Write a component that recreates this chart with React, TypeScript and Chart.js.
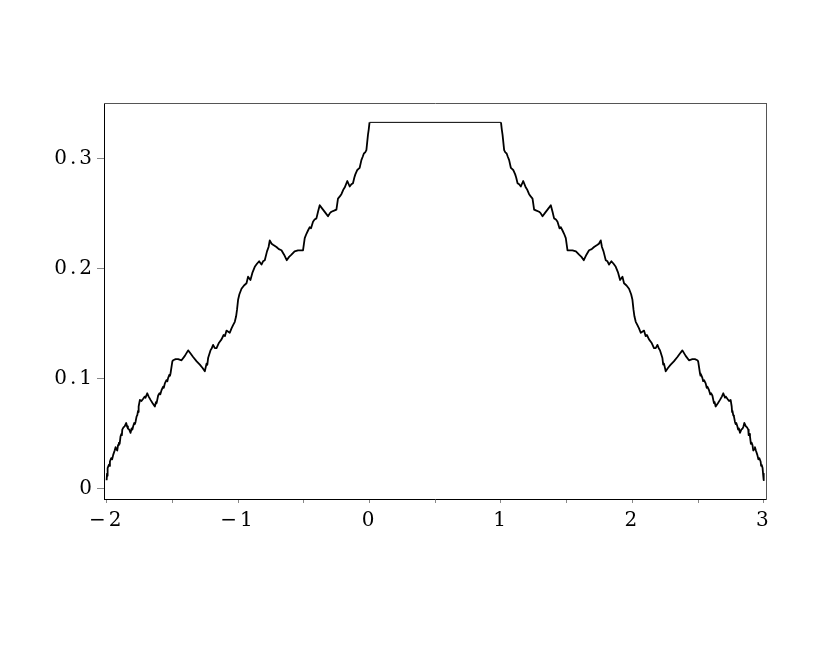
import React, { useEffect, useRef } from "react";
import { Chart, registerables } from "chart.js";

Chart.register(...registerables);

// Left branch (x from -2 to 0)
const leftX = [
  -2, -1.997, -1.995, -1.99, -1.983, -1.979, -1.975, -1.965, -1.958, -1.95,
  -1.939, -1.932, -1.926, -1.919, -1.913, -1.907, -1.901, -1.894, -1.888, -1.884,
  -1.881, -1.872, -1.863, -1.851, -1.845, -1.838, -1.828, -1.818, -1.81, -1.804,
  -1.798, -1.79, -1.785, -1.78, -1.772, -1.767, -1.761, -1.758, -1.755, -1.747,
  -1.735, -1.722, -1.71, -1.704, -1.691, -1.68, -1.666, -1.65, -1.633, -1.625,
  -1.62, -1.608, -1.598, -1.592, -1.582, -1.57, -1.565, -1.557, -1.545, -1.538,
  -1.532, -1.522, -1.518, -1.514, -1.5, -1.494, -1.475, -1.456, -1.43, -1.405,
  -1.38, -1.36, -1.342, -1.315, -1.291, -1.27, -1.253, -1.24, -1.234, -1.228,
  -1.21, -1.2, -1.19, -1.177, -1.164, -1.145, -1.126, -1.11, -1.1, -1.088,
  -1.075, -1.063, -1.05, -1.038, -1.025, -1.015, -1.008, -1.0, -0.99, -0.974,
  -0.955, -0.936, -0.924, -0.906, -0.89, -0.873, -0.855, -0.84, -0.822, -0.81,
  -0.797, -0.78, -0.768, -0.759, -0.745, -0.734, -0.708, -0.69, -0.67, -0.65,
  -0.63, -0.612, -0.594, -0.57, -0.544, -0.525, -0.506, -0.493, -0.48, -0.468,
  -0.455, -0.445, -0.43, -0.418, -0.404, -0.392, -0.379, -0.367, -0.354, -0.335,
  -0.316, -0.3, -0.29, -0.27, -0.252, -0.24, -0.226, -0.214, -0.2, -0.189,
  -0.169, -0.151, -0.138, -0.126, -0.116, -0.108, -0.093, -0.084, -0.075, -0.062,
  -0.052, -0.043, -0.033, -0.024, -0.012, -0.006, 0,
];
const leftY = [
  0.008, 0.014, 0.012, 0.019, 0.022, 0.021, 0.025, 0.028, 0.027, 0.031,
  0.035, 0.038, 0.036, 0.035, 0.04, 0.042, 0.041, 0.048, 0.05, 0.049,
  0.054, 0.056, 0.057, 0.06, 0.057, 0.055, 0.054, 0.051, 0.055, 0.054,
  0.057, 0.06, 0.059, 0.061, 0.066, 0.067, 0.071, 0.07, 0.075, 0.081,
  0.08, 0.082, 0.084, 0.083, 0.087, 0.084, 0.081, 0.078, 0.075, 0.079,
  0.078, 0.085, 0.087, 0.086, 0.09, 0.093, 0.092, 0.096, 0.099, 0.098,
  0.101, 0.104, 0.103, 0.105, 0.116, 0.117, 0.118, 0.118, 0.117, 0.121,
  0.126, 0.123, 0.12, 0.116, 0.113, 0.11, 0.107, 0.114, 0.113, 0.119,
  0.126, 0.128, 0.131, 0.128, 0.128, 0.133, 0.136, 0.14, 0.139, 0.144,
  0.143, 0.142, 0.146, 0.149, 0.152, 0.157, 0.163, 0.172, 0.177, 0.182,
  0.185, 0.187, 0.193, 0.19, 0.197, 0.202, 0.205, 0.207, 0.204, 0.207,
  0.208, 0.216, 0.22, 0.226, 0.223, 0.222, 0.22, 0.218, 0.217, 0.213,
  0.208, 0.211, 0.213, 0.216, 0.217, 0.217, 0.217, 0.228, 0.232, 0.235,
  0.238, 0.237, 0.243, 0.245, 0.246, 0.252, 0.258, 0.256, 0.254, 0.251,
  0.248, 0.251, 0.252, 0.253, 0.254, 0.264, 0.266, 0.268, 0.272, 0.274,
  0.28, 0.275, 0.277, 0.278, 0.283, 0.286, 0.29, 0.291, 0.292, 0.299,
  0.302, 0.305, 0.306, 0.308, 0.322, 0.327, 0.3333,
];

// Right branch (x from 1 to 3)
const rightX = [
  1, 1.006, 1.012, 1.024, 1.033, 1.043, 1.052, 1.062, 1.075, 1.084,
  1.093, 1.108, 1.116, 1.126, 1.138, 1.151, 1.169, 1.189, 1.2, 1.214,
  1.226, 1.24, 1.252, 1.27, 1.29, 1.3, 1.316, 1.335, 1.354, 1.367,
  1.379, 1.392, 1.404, 1.418, 1.43, 1.445, 1.455, 1.468, 1.48, 1.493,
  1.506, 1.525, 1.544, 1.57, 1.594, 1.612, 1.63, 1.65, 1.67, 1.69,
  1.708, 1.734, 1.745, 1.759, 1.768, 1.78, 1.797, 1.81, 1.822, 1.84,
  1.855, 1.873, 1.89, 1.906, 1.924, 1.936, 1.955, 1.974, 1.99, 2.0,
  2.008, 2.015, 2.025, 2.038, 2.05, 2.063, 2.075, 2.088, 2.1, 2.11,
  2.126, 2.145, 2.164, 2.177, 2.19, 2.2, 2.21, 2.228, 2.234, 2.24,
  2.253, 2.27, 2.291, 2.315, 2.342, 2.36, 2.38, 2.405, 2.43, 2.456,
  2.475, 2.494, 2.5, 2.514, 2.518, 2.522, 2.532, 2.538, 2.545, 2.557,
  2.565, 2.57, 2.582, 2.592, 2.598, 2.608, 2.62, 2.625, 2.633, 2.65,
  2.666, 2.68, 2.691, 2.704, 2.71, 2.722, 2.735, 2.747, 2.755, 2.758,
  2.761, 2.767, 2.772, 2.78, 2.785, 2.79, 2.798, 2.804, 2.81, 2.818,
  2.828, 2.838, 2.845, 2.851, 2.863, 2.872, 2.881, 2.884, 2.888, 2.894,
  2.901, 2.907, 2.913, 2.919, 2.926, 2.932, 2.939, 2.95, 2.958, 2.965,
  2.975, 2.979, 2.983, 2.99, 2.995, 2.997, 3,
];
const rightY = [
  0.3333, 0.327, 0.322, 0.308, 0.306, 0.305, 0.302, 0.299, 0.292, 0.291,
  0.29, 0.286, 0.283, 0.278, 0.277, 0.275, 0.28, 0.274, 0.272, 0.268,
  0.266, 0.264, 0.254, 0.253, 0.252, 0.251, 0.248, 0.251, 0.254, 0.256,
  0.258, 0.252, 0.246, 0.245, 0.243, 0.237, 0.238, 0.235, 0.232, 0.228,
  0.217, 0.217, 0.217, 0.216, 0.213, 0.211, 0.208, 0.213, 0.217, 0.218,
  0.22, 0.222, 0.223, 0.226, 0.22, 0.216, 0.208, 0.207, 0.204, 0.207,
  0.205, 0.202, 0.197, 0.19, 0.193, 0.187, 0.185, 0.182, 0.177, 0.172,
  0.163, 0.157, 0.152, 0.149, 0.146, 0.142, 0.143, 0.144, 0.139, 0.14,
  0.136, 0.133, 0.128, 0.128, 0.131, 0.128, 0.126, 0.119, 0.113, 0.114,
  0.107, 0.11, 0.113, 0.116, 0.12, 0.123, 0.126, 0.121, 0.117, 0.118,
  0.118, 0.117, 0.116, 0.105, 0.103, 0.104, 0.101, 0.098, 0.099, 0.096,
  0.092, 0.093, 0.09, 0.086, 0.087, 0.085, 0.078, 0.079, 0.075, 0.078,
  0.081, 0.084, 0.087, 0.083, 0.084, 0.082, 0.08, 0.081, 0.075, 0.07,
  0.071, 0.067, 0.066, 0.061, 0.059, 0.06, 0.057, 0.054, 0.055, 0.051,
  0.054, 0.055, 0.057, 0.06, 0.057, 0.056, 0.054, 0.049, 0.05, 0.048,
  0.041, 0.042, 0.04, 0.035, 0.036, 0.038, 0.035, 0.031, 0.027, 0.028,
  0.025, 0.021, 0.022, 0.019, 0.012, 0.014, 0.008,
];

const xTickLabels = [-2, -1, 0, 1, 2, 3];
const yTickLabels = [0, 0.1, 0.2, 0.3];

const xRange = [-2.02, 3.016];
const yRange = [-0.0091, 0.3509];

const letterSpacingPlugin = {
  id: "tickLetterSpacing",
  beforeDraw(chart: any) {
    chart.ctx.letterSpacing = "3px";
  },
  beforeDatasetsDraw(chart: any) {
    chart.ctx.letterSpacing = "0px";
  },
};

export default function App() {
  const canvasRef = useRef<HTMLCanvasElement | null>(null);

  useEffect(() => {
    if (!canvasRef.current) return;
    const points = [
      ...leftX.map((x, i) => ({ x, y: leftY[i] })),
      ...rightX.map((x, i) => ({ x, y: rightY[i] })),
    ];
    const font = { family: "'DejaVu Serif', serif", size: 20 };
    const chart = new Chart(canvasRef.current, {
      type: "line",
      data: {
        datasets: [
          {
            data: points,
            borderColor: "#000",
            borderWidth: 1.8,
            pointRadius: 0,
            tension: 0,
            fill: false,
            borderJoinStyle: "round",
            segment: {
              borderWidth: (ctx: any) =>
                ctx.p0.parsed.x >= 0 && ctx.p1.parsed.x <= 1 ? 1 : 1.8,
            },
          },
        ],
      },
      options: {
        responsive: true,
        maintainAspectRatio: false,
        animation: false,
        events: [],
        layout: { padding: { left: 0, top: 103, right: 64, bottom: 125 } },
        plugins: { legend: { display: false }, tooltip: { enabled: false } },
        scales: {
          x: {
            type: "linear",
            position: "bottom",
            min: xRange[0],
            max: xRange[1],
            afterFit: (s: any) => {
              s.height = 40;
            },
            ticks: {
              stepSize: 0.5,
              includeBounds: false,
              autoSkip: false,
              maxRotation: 0,
              minRotation: 0,
              padding: 6,
              color: "#000",
              font,
              callback: (v: any) => {
                const n = Number(v);
                if (!xTickLabels.some((t) => Math.abs(t - n) < 1e-6)) return "";
                const r = Math.round(n);
                return r < 0 ? "\u2212" + Math.abs(r) : String(r);
              },
            },
            grid: {
              drawOnChartArea: false,
              drawTicks: true,
              tickLength: 4,
              tickColor: "#888",
              tickWidth: 1,
            },
            border: { display: true, color: "#000", width: 1 },
          },
          y: {
            type: "linear",
            position: "left",
            min: yRange[0],
            max: yRange[1],
            afterFit: (s: any) => {
              s.width = 104;
            },
            ticks: {
              stepSize: 0.1,
              includeBounds: false,
              autoSkip: false,
              padding: 2,
              color: "#000",
              font,
              callback: (v: any) => {
                const n = Number(v);
                const t = yTickLabels.find((k) => Math.abs(k - n) < 1e-6);
                if (t === undefined) return "";
                return t === 0 ? "0" : t.toFixed(1);
              },
            },
            grid: {
              drawOnChartArea: false,
              drawTicks: true,
              tickLength: 7,
              tickColor: "#888",
              tickWidth: 1,
            },
            border: { display: true, color: "#000", width: 1 },
          },
          x2: {
            type: "linear",
            position: "top",
            min: xRange[0],
            max: xRange[1],
            afterFit: (s: any) => {
              s.height = 0;
            },
            ticks: { display: false },
            grid: { display: false, drawTicks: false },
            border: { display: true, color: "#555", width: 1 },
          },
          y2: {
            type: "linear",
            position: "right",
            min: yRange[0],
            max: yRange[1],
            afterFit: (s: any) => {
              s.width = 0;
            },
            ticks: { display: false },
            grid: { display: false, drawTicks: false },
            border: { display: true, color: "#555", width: 1 },
          },
        },
      },
      plugins: [letterSpacingPlugin],
    } as any);
    return () => chart.destroy();
  }, []);

  return (
    <div
      style={{
        position: "fixed",
        left: 0,
        top: 0,
        width: 830,
        height: 664,
        background: "#fff",
      }}
    >
      <canvas ref={canvasRef} />
    </div>
  );
}
